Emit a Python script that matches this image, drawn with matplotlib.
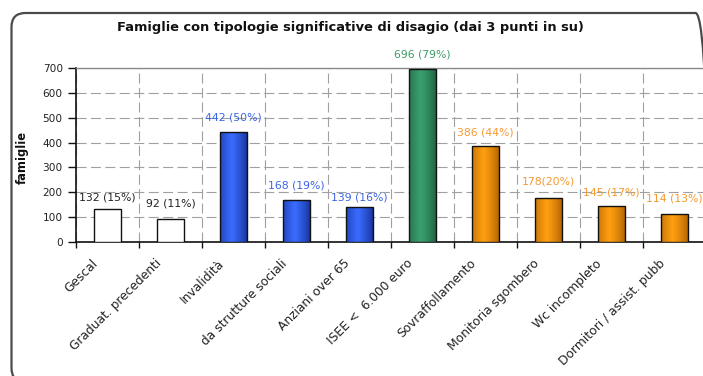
import matplotlib
matplotlib.use("Agg")
import matplotlib.pyplot as plt
import numpy as np
from matplotlib.patches import FancyBboxPatch, Rectangle
from matplotlib.colors import LinearSegmentedColormap

plt.rcParams['font.family'] = ['DejaVu Sans']

title = "Famiglie con tipologie significative di disagio (dai 3 punti in su)"
ylabel = "famiglie"
categories = ["Gescal", "Graduat. precedenti", "Invalidità", "da strutture sociali",
              "Anziani over 65", "ISEE <  6.000 euro", "Sovraffollamento",
              "Monitoria sgombero", "Wc incompleto", "Dormitori / assist. pubb"]
values = [132, 92, 442, 168, 139, 696, 386, 178, 145, 114]
percents = ["15%", "11%", "50%", "19%", "16%", "79%", "44%", "20%", "17%", "13%"]
groups = ["white", "white", "blue", "blue", "blue", "green",
          "orange", "orange", "orange", "orange"]
yticks = [0, 100, 200, 300, 400, 500, 600, 700]

# bar fill (edge, centre) and label colour per group
palette = {
    "white": (("#ffffff", "#ffffff"), "#222222"),
    "blue": (("#102a8c", "#3a6cff"), "#3b63e6"),
    "green": (("#1b5a3a", "#3aa070"), "#3d9a6a"),
    "orange": (("#a65a00", "#ffa010"), "#f59a30"),
}
label_offsets = [12, 16, 15, 15, 10, 14, 14, 16, 13, 15]  # pixels above bar top
label_formats = ["{} ({})"] * 7 + ["{}({})", "{} ({})", "{} ({})"]

W, H = 703, 376
PT = 0.72  # points per pixel at 100 dpi
fig = plt.figure(figsize=(W / 100, H / 100), dpi=100)
fig.patch.set_facecolor("white")

# rounded frame around the chart
frame = FancyBboxPatch((0.115, -0.06), 6.98, 3.69,
                       boxstyle="round,pad=0,rounding_size=0.14",
                       transform=fig.dpi_scale_trans, fill=False,
                       edgecolor="#4a4a4a", linewidth=1.6, zorder=0)
fig.patches.append(frame)

x0, x1, ytop, ybot = 76, 706, 68, 242
ax = fig.add_axes([x0 / W, (H - ybot) / H, (x1 - x0) / W, (ybot - ytop) / H])
ax.set_xlim(0, len(categories))
ax.set_ylim(0, 700)

centres = np.arange(len(categories)) + 0.5
bar_w = 0.43
bars = ax.bar(centres, values, width=bar_w, facecolor="none",
              edgecolor="#111111", linewidth=1.0, zorder=4)

# horizontal shading inside each bar
grad_x = np.linspace(0, 1, 256)
profile = np.clip(1 - np.abs(grad_x - 0.42) / 0.58, 0, 1) ** 0.7
for rect, g in zip(bars, groups):
    (edge_c, mid_c), _ = palette[g]
    cmap = LinearSegmentedColormap.from_list(g, [edge_c, mid_c])
    x, w, h = rect.get_x(), rect.get_width(), rect.get_height()
    im = ax.imshow(profile[np.newaxis, :], cmap=cmap, vmin=0, vmax=1,
                   extent=[x, x + w, 0, h], aspect="auto", zorder=3,
                   interpolation="bilinear")
    clip = Rectangle((x, 0), w, h, transform=ax.transData)
    im.set_clip_path(clip)

for c, v, p, g, off, fmt in zip(centres, values, percents, groups,
                                label_offsets, label_formats):
    ax.annotate(fmt.format(v, p), (c, v), xytext=(0, off * PT),
                textcoords="offset points", ha="center", va="center",
                fontsize=7.8, color=palette[g][1], zorder=5)

# category names, slanted under each bar
ax.set_xticks(centres)
ax.set_xticklabels([""] * len(categories))
for c, name in zip(centres, categories):
    ax.annotate(name, (c, 0), xytext=(-16 * PT, -15 * PT),
                textcoords="offset points", rotation=45, ha="right", va="top",
                rotation_mode="anchor", fontsize=8.8, color="#222222",
                annotation_clip=False)

ax.set_yticks(yticks)
ax.set_yticklabels([str(t) for t in yticks], fontsize=7.6, color="#222222")
ax.set_xticks(np.arange(len(categories) + 1), minor=True)
ax.tick_params(axis="x", which="major", length=0)
ax.tick_params(axis="x", which="minor", length=4, width=1, color="#111111",
               direction="out")
ax.tick_params(axis="y", length=5.5, width=1, color="#111111", pad=4)

ax.grid(True, axis="y", which="major", color="#a0a0a0", linestyle=(0, (9, 4)),
        linewidth=0.8, zorder=1)
ax.grid(True, axis="x", which="minor", color="#a0a0a0", linestyle=(0, (9, 4)),
        linewidth=0.8, zorder=1)
ax.set_axisbelow(True)

for s in ("left", "bottom"):
    ax.spines[s].set_color("#111111")
    ax.spines[s].set_linewidth(1.2)
ax.spines["top"].set_color("#8a8a8a")
ax.spines["top"].set_linewidth(1.0)
ax.spines["right"].set_visible(False)

fig.text(22 / W, 1 - 157 / H, ylabel, rotation=90, ha="center", va="center",
         fontsize=8.3, fontweight="bold", color="#111111")
fig.text(350 / W, 1 - 28 / H, title, ha="center", va="center",
         fontsize=9.4, fontweight="bold", color="#111111")

fig.savefig("out.png", dpi=100, facecolor="white")
